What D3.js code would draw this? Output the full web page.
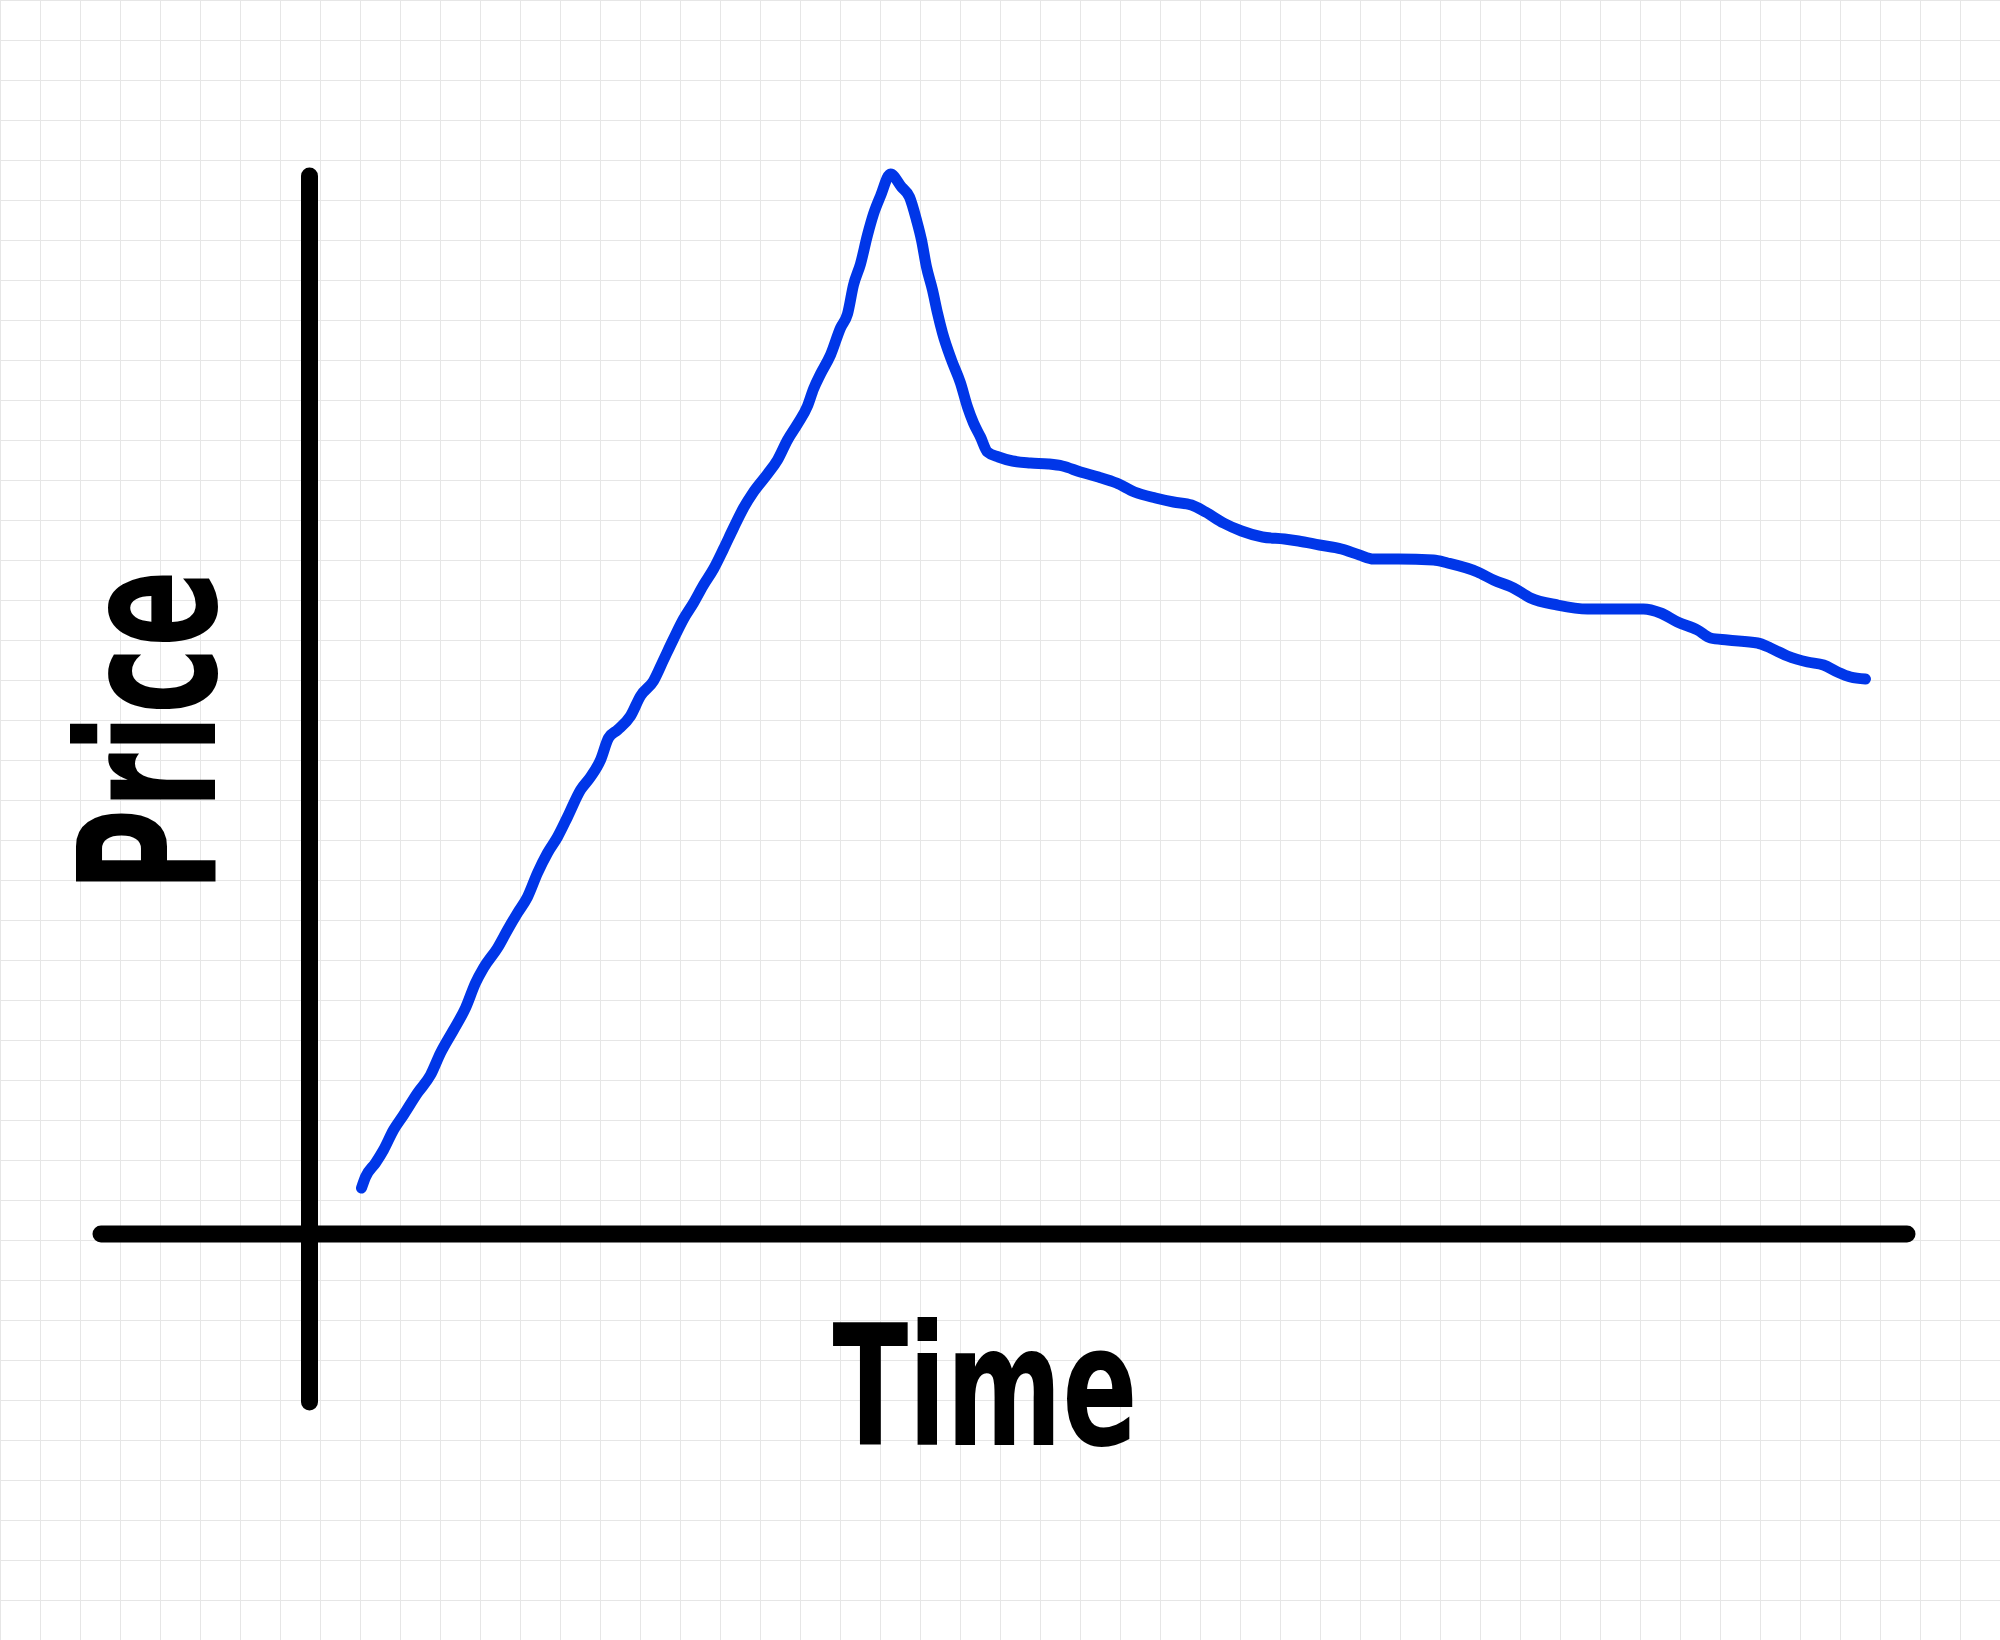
<!DOCTYPE html>
<html>
<head>
<meta charset="utf-8">
<script src="https://cdn.jsdelivr.net/npm/d3@7/dist/d3.min.js"></script>
<style>
  html, body { margin: 0; padding: 0; background: #fff; }
  svg { display: block; }
</style>
</head>
<body>
<svg id="chart"></svg>
<script>
'use strict';

// hand drawn price curve (time in days, price in arbitrary units)
var time = [
  5.2, 5.6, 6.6, 7.4, 8.4, 9.4, 10.8, 12.1, 13.1, 14.4, 15.6, 16.6, 17.4, 18.8, 19.8,
  20.8, 21.8, 22.8, 23.8, 24.8, 25.8, 27.1, 28.1, 29.1, 29.9, 30.8, 32.1, 33.1, 34.4,
  35.4, 36.4, 37.4, 38.4, 39.4, 40.4, 41.4, 42.4, 43.4, 44.4, 45.8, 46.8, 47.8, 48.8,
  49.8, 50.4, 51.1, 52.1, 53.1, 53.8, 54.4, 55.1, 55.8, 56.4, 57.1, 58.1, 59.2, 60.0,
  60.7, 61.2, 61.7, 62.3, 62.8, 63.3, 64.2, 65.1, 65.8, 66.4, 67.1, 67.8, 68.9, 70.3,
  72.1, 73.9, 75.3, 77.1, 78.9, 80.7, 82.5, 84.6, 86.4, 88.2, 89.6, 91.4, 93.2, 95.3,
  97.5, 98.9, 101.0, 103.2, 105.0, 106.4, 108.9, 112.4, 113.8, 116.8, 118.4, 120.4,
  122.1, 124.8, 127.8, 133.4, 135.1, 136.8, 138.8, 140.1, 141.8, 144.8, 146.1, 147.8,
  149.8, 151.4, 152.8, 154.1, 155.6
];

var price = [
  4.6, 5.7, 7.1, 8.4, 10.4, 11.9, 14.1, 15.9, 18.1, 20.4, 22.6, 25.1, 26.6, 28.6, 30.4,
  32.1, 33.7, 36.1, 38.1, 39.7, 41.7, 44.4, 45.7, 47.4, 49.6, 50.4, 51.8, 53.8, 55.3,
  57.4, 59.5, 61.5, 63.1, 64.9, 66.5, 68.5, 70.6, 72.6, 74.2, 76.0, 77.4, 79.4, 81.0,
  82.8, 84.5, 86.0, 87.9, 90.6, 92.0, 94.9, 97.0, 99.9, 102.0, 103.8, 106.0, 104.7, 103.7,
  101.4, 99.4, 96.7, 94.4, 92.1, 90.1, 87.4, 85.1, 82.7, 81.1, 79.7, 78.2, 77.7, 77.3,
  77.1, 77.0, 76.8, 76.2, 75.7, 75.1, 74.2, 73.6, 73.2, 72.9, 72.2, 71.1, 70.3, 69.7,
  69.5, 69.3, 68.9, 68.5, 67.9, 67.5, 67.5, 67.4, 67.1, 66.2, 65.4, 64.6,
  63.6, 62.9, 62.5, 62.5, 62.1, 61.2, 60.4, 59.6, 59.4, 59.1, 58.6, 57.8,
  57.2, 56.9, 56.2, 55.7, 55.5
];

// how far the drawn axes run, in data units
var timeAxisExtent = [-20.85, 159.75];
var priceAxisExtent = [-16.8, 105.8];

var xLabel = "Time";
var yLabel = "Price";

var width = 2000,
    height = 1640;

var svg = d3.select("svg#chart")
    .attr("width", width)
    .attr("height", height);

svg.append("rect")
    .attr("width", width)
    .attr("height", height)
    .attr("fill", "#fff");

// squared paper
var grid = svg.append("g")
    .attr("stroke", "#e6e6e6")
    .attr("stroke-width", 1)
    .attr("shape-rendering", "crispEdges");

grid.selectAll(".vgrid")
    .data(d3.range(0, width + 1, 40))
  .enter().append("line")
    .attr("class", "vgrid")
    .attr("x1", function(d) { return d + 0.5; })
    .attr("x2", function(d) { return d + 0.5; })
    .attr("y1", 0)
    .attr("y2", height);

grid.selectAll(".hgrid")
    .data(d3.range(0, height + 1, 40))
  .enter().append("line")
    .attr("class", "hgrid")
    .attr("y1", function(d) { return d + 0.5; })
    .attr("y2", function(d) { return d + 0.5; })
    .attr("x1", 0)
    .attr("x2", width);

var x = d3.scaleLinear()
    .domain([0, 160])
    .range([309.5, 1909.5]);

var y = d3.scaleLinear()
    .domain([0, 106])
    .range([1234, 174]);

// axes, drawn as fat marker strokes
var axes = svg.append("g")
    .attr("stroke", "#000")
    .attr("stroke-width", 17)
    .attr("stroke-linecap", "round");

axes.append("line")
    .attr("x1", x(timeAxisExtent[0]))
    .attr("x2", x(timeAxisExtent[1]))
    .attr("y1", y(0))
    .attr("y2", y(0));

axes.append("line")
    .attr("x1", x(0))
    .attr("x2", x(0))
    .attr("y1", y(priceAxisExtent[0]))
    .attr("y2", y(priceAxisExtent[1]));

var points = time.map(function(t, i) { return { t: t, p: price[i] }; });

var line = d3.line()
    .x(function(d) { return x(d.t); })
    .y(function(d) { return y(d.p); })
    .curve(d3.curveMonotoneX);

svg.append("path")
    .datum(points)
    .attr("fill", "none")
    .attr("stroke", "#0036e8")
    .attr("stroke-width", 11)
    .attr("stroke-linecap", "round")
    .attr("stroke-linejoin", "round")
    .attr("d", line);

// labels
var labelFont = "'DejaVu Sans', 'Liberation Sans', sans-serif";

svg.append("text")
    .attr("x", 985)
    .attr("y", 1445)
    .attr("text-anchor", "middle")
    .attr("font-family", labelFont)
    .attr("font-weight", "bold")
    .attr("font-size", 168)
    .attr("textLength", 305)
    .attr("lengthAdjust", "spacingAndGlyphs")
    .attr("fill", "#000")
    .text(xLabel);

svg.append("text")
    .attr("transform", "translate(215,731) rotate(-90)")
    .attr("text-anchor", "middle")
    .attr("font-family", labelFont)
    .attr("font-weight", "bold")
    .attr("font-size", 190)
    .attr("textLength", 322)
    .attr("lengthAdjust", "spacingAndGlyphs")
    .attr("fill", "#000")
    .text(yLabel);
</script>
</body>
</html>
